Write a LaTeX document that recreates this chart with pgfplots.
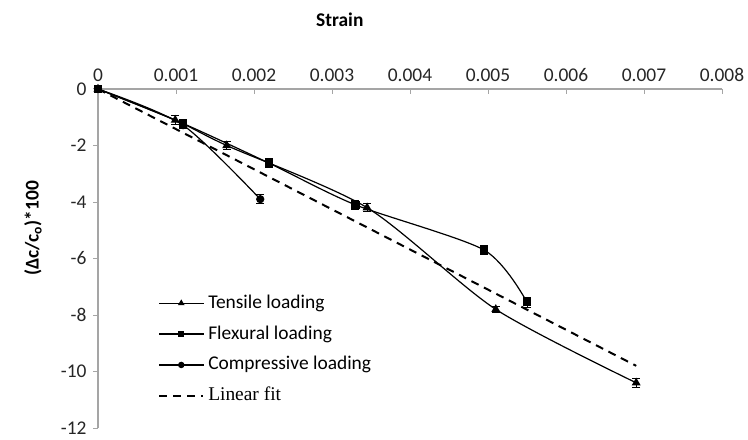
\documentclass[border=0pt]{standalone}
\usepackage{pgfplots}
\pgfplotsset{compat=1.18}
\usepackage{fontspec}
\setmainfont{Carlito}
\newfontfamily\timesfont{Liberation Serif}
\definecolor{axisgray}{RGB}{165,165,165}

% strain, (dc/co)*100, error
\pgfplotstableread{
x y e
0 0 0.08
0.00099 -1.10 0.15
0.00165 -2.00 0.15
0.00345 -4.20 0.15
0.0051 -7.80 0.12
0.0069 -10.40 0.15
}\tensile
\pgfplotstableread{
x y e
0 0 0.08
0.00109 -1.22 0.15
0.00219 -2.62 0.15
0.0033 -4.10 0.15
0.00495 -5.70 0.15
0.0055 -7.55 0.18
}\flexural
\pgfplotstableread{
x y e
0 0 0.08
0.00109 -1.28 0.12
0.00208 -3.90 0.15
}\compressive

\begin{document}
\begin{tikzpicture}
\begin{axis}[
  scale only axis,
  width=624bp, height=339bp,
  xmin=0, xmax=0.008,
  ymin=-12, ymax=0,
  scaled x ticks=false,
  axis x line=top, axis y line=left,
  axis line style={-, draw=axisgray, line width=1.2bp},
  every outer x axis line/.append style={-},
  every outer y axis line/.append style={-},
  xtick={0,0.001,0.002,0.003,0.004,0.005,0.006,0.007,0.008},
  xticklabels={0,0.001,0.002,0.003,0.004,0.005,0.006,0.007,0.008},
  ytick={-12,-10,-8,-6,-4,-2,0},
  yticklabels={-12,-10,-8,-6,-4,-2,0},
  tick align=inside,
  major tick length=5bp,
  tick style={draw=axisgray, line width=1bp},
  y tick style={xshift=-5bp},
  ticklabel style={font=\fontsize{19.5}{22}\selectfont, text=black!85},
  xticklabel style={yshift=4bp},
  yticklabel style={xshift=-8bp},
  clip=false,
  legend cell align=left,
  legend image code/.code={\draw[mark repeat=2,mark phase=2,#1,mark size=2.6bp] plot coordinates {(0bp,0bp) (22bp,0bp) (44bp,0bp)};},
  legend style={at={(axis cs:0.00077,-7.22)}, anchor=north west, draw=none, fill=none,
    inner sep=0pt, row sep=10.9bp, column sep=4bp,
    font=\fontsize{19.5}{22}\selectfont,
    nodes={inner sep=0pt, text height=15bp, text depth=5bp}},
]
\addplot[black, line width=1.2bp, smooth, tension=0.45, mark=triangle*, mark size=4bp,
  error bars/.cd, y dir=both, y explicit,
  error bar style={line width=0.9bp, black},
  error mark options={mark size=4bp, line width=0.9bp, black, rotate=90}]
  table[x=x, y=y, y error=e] {\tensile};
\addlegendentry{Tensile loading}
\addplot[black, line width=1.2bp, smooth, tension=0.45, mark=square*, mark size=3.5bp,
  error bars/.cd, y dir=both, y explicit,
  error bar style={line width=0.9bp, black},
  error mark options={mark size=4bp, line width=0.9bp, black, rotate=90}]
  table[x=x, y=y, y error=e] {\flexural};
\addlegendentry{Flexural loading}
\addplot[black, line width=1.2bp, smooth, tension=0.45, mark=*, mark size=3.5bp,
  error bars/.cd, y dir=both, y explicit,
  error bar style={line width=0.9bp, black},
  error mark options={mark size=4bp, line width=0.9bp, black, rotate=90}]
  table[x=x, y=y, y error=e] {\compressive};
\addlegendentry{Compressive loading}
\addplot[black, line width=2bp, dash pattern=on 8bp off 6bp] coordinates {(0,0) (0.0069,-9.8)};
\addlegendentry{\timesfont Linear fit}
\node[font=\fontsize{19.5}{22}\selectfont\bfseries] at ([yshift=69bp]axis cs:0.0031,0) {Strain};
\node[font=\fontsize{19.5}{22}\selectfont\bfseries, rotate=90] at ([xshift=-65bp]axis cs:0,-4.93) {(Δc/c\textsubscript{o})*100};
% page frame with the reference's margins
\path ([xshift=-98bp,yshift=89bp]rel axis cs:0,1) rectangle ([xshift=26bp,yshift=-11bp]rel axis cs:1,0);
\end{axis}
\end{tikzpicture}
\end{document}
